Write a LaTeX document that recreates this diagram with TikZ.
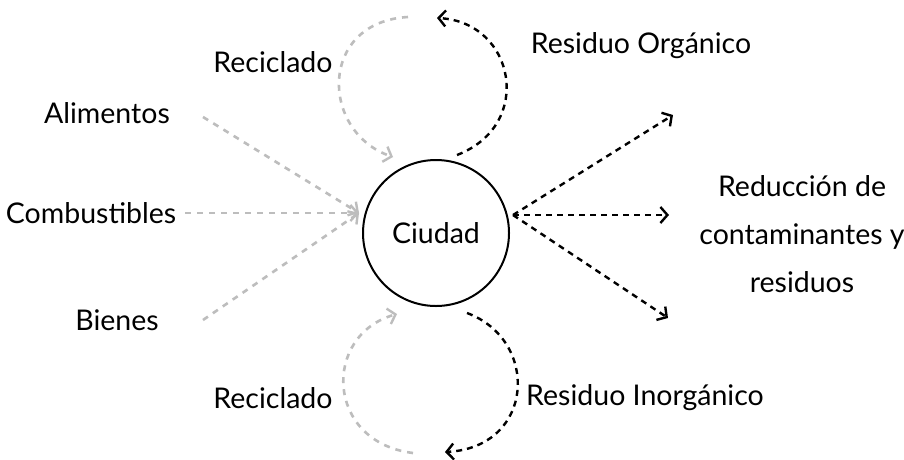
\documentclass[tikz,border=0pt]{standalone}
\usepackage{fontspec}
\setmainfont{Lato}
\usetikzlibrary{arrows.meta}
\definecolor{flowgray}{HTML}{BDBDBD}
\tikzset{
  lbl/.style={font=\fontsize{28.5}{34}\selectfont, inner sep=0pt, align=center},
  inflow/.style={draw=flowgray, line width=2.6pt, dash pattern=on 6pt off 6pt,
    -{Straight Barb[length=7pt,width=16pt,line width=2.4pt]}},
  outflow/.style={draw=black, line width=2.4pt, dash pattern=on 6pt off 5pt,
    -{Straight Barb[length=7pt,width=16pt,line width=2.4pt]}},
}
\begin{document}
\begin{tikzpicture}[x=1pt,y=-1pt]
\useasboundingbox[fill=white] (0,0) rectangle (904,459);

% city
\node[draw, circle, line width=2pt, minimum size=146pt, lbl] (c) at (436,233) {Ciudad};

% inputs
\node[lbl] (ali) at (107,113) {Alimentos};
\node[lbl] (com) at (91,213) {Combustibles};
\node[lbl] (bie) at (117,320) {Bienes};
\coordinate (hit) at (359,213);
\draw[inflow] (203,117) -- (hit);
\draw[inflow] (com.east) ++(9,0) -- (hit);
\draw[inflow] (203,320) -- (hit);

% outputs
\node[lbl] (red) at (802,234) {Reducción de\\[14pt]contaminantes y\\[14pt]residuos};
\coordinate (src) at (513,215);
\coordinate (o1) at (673,115);
\coordinate (o2) at (669,215);
\coordinate (o3) at (668,318);
\draw[outflow] (src) -- (o1);
\draw[outflow] (src) -- (o2);
\draw[outflow] (src) -- (o3);

% upper loop
\node[lbl] (rec1) at (273,62) {Reciclado};
\node[lbl] (org) at (641,46) {Residuo Orgánico};
\coordinate (g1s) at (408,17);
\coordinate (g1e) at (393,157);
\draw[inflow] (g1s) .. controls (318,22) and (320,132) .. (g1e);
\coordinate (b1s) at (457,155);
\coordinate (b1e) at (437,18);
\draw[outflow] (b1s) .. controls (535,125) and (515,22) .. (b1e);

% lower loop
\node[lbl] (rec2) at (273,398) {Reciclado};
\node[lbl] (ino) at (645,398) {Residuo Inorgánico};
\coordinate (g2s) at (413,453);
\coordinate (g2e) at (397,314);
\draw[inflow] (g2s) .. controls (325,442) and (322,335) .. (g2e);
\coordinate (b2s) at (467,313);
\coordinate (b2e) at (445,452);
\draw[outflow] (b2s) .. controls (540,340) and (535,447) .. (b2e);
\end{tikzpicture}
\end{document}
